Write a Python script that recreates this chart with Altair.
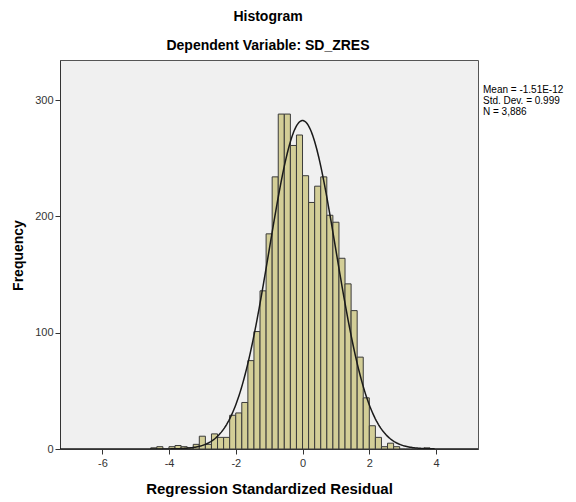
import altair as alt
import pandas as pd
import numpy as np

# ---- data ----
bin_lo = [-4.550, -4.368, -4.186, -4.004, -3.822, -3.640, -3.458, -3.276, -3.094, -2.912,
          -2.730, -2.548, -2.366, -2.184, -2.002, -1.820, -1.638, -1.456, -1.274, -1.092,
          -0.910, -0.728, -0.546, -0.364, -0.182, 0.000, 0.182, 0.364, 0.546, 0.728,
          0.910, 1.092, 1.274, 1.456, 1.638, 1.820, 2.002, 2.184, 2.366, 2.548,
          2.730, 2.912, 3.094, 3.276, 3.458, 3.640]
counts = [1, 2, 0, 2, 3, 2, 1, 4, 11, 4,
          13, 10, 10, 29, 31, 40, 76, 101, 136, 185,
          234, 288, 288, 261, 270, 235, 212, 226, 234, 201,
          195, 164, 142, 119, 79, 44, 20, 10, 2, 5,
          2, 0, 0, 0, 0, 1]
bin_width = 0.182
x_ticks = [-6, -4, -2, 0, 2, 4]
y_ticks = [0, 100, 200, 300]
title_lines = ["Histogram", "Dependent Variable: SD_ZRES"]
stats_lines = ["Mean = -1.51E-12", "Std. Dev. = 0.999", "N = 3,886"]
mean, sd, n = -1.51e-12, 0.999, 3886
x_domain = [-7.27, 5.26]
y_domain = [0, 334.5]

bars = pd.DataFrame({"lo": bin_lo, "hi": [v + bin_width for v in bin_lo], "count": counts})

# fitted normal curve (as drawn by SPSS): N * binwidth * pdf
xs = np.linspace(x_domain[0], x_domain[1], 400)
ys = n * bin_width / (sd * np.sqrt(2 * np.pi)) * np.exp(-0.5 * ((xs - mean) / sd) ** 2)
curve = pd.DataFrame({"x": xs, "y": ys})

FONT = "Liberation Sans"

xscale = alt.Scale(domain=x_domain, nice=False, zero=False)
yscale = alt.Scale(domain=y_domain, nice=False)

xaxis = alt.Axis(values=x_ticks, labelExpr="datum.value + ''", grid=False,
                 title="Regression Standardized Residual", titleFontSize=15,
                 titleFontWeight="bold", titleFont=FONT, titleColor="#000",
                 titleX=209, titleY=39, titleBaseline="middle", titleAlign="center",
                 labelFont=FONT, labelFontSize=11, labelColor="#333", labelPadding=3,
                 tickSize=5, tickColor="#333", domainColor="#333", domain=True)
yaxis = alt.Axis(values=y_ticks, grid=False, title="Frequency", titleFontSize=14,
                 titleFontWeight="bold", titleFont=FONT, titleColor="#000",
                 titleX=-42, titleY=195, titleBaseline="middle", titleAlign="center",
                 titleAngle=270,
                 labelFont=FONT, labelFontSize=11, labelColor="#333", labelPadding=2,
                 tickSize=5, tickColor="#333", domainColor="#333", domain=True)

hist = alt.Chart(bars).mark_rect(fill="#D3CE97", stroke="#3a3a3a", strokeWidth=1).encode(
    x=alt.X("lo:Q", scale=xscale, axis=xaxis),
    x2="hi:Q",
    y=alt.Y("count:Q", scale=yscale, axis=yaxis),
    y2=alt.datum(0),
)

line = alt.Chart(curve).mark_line(color="#1a1a1a", strokeWidth=1.5, clip=True).encode(
    x=alt.X("x:Q", scale=xscale),
    y=alt.Y("y:Q", scale=yscale),
)

layers = [hist, line]

title_y = [-43, -14]
for txt, py in zip(title_lines, title_y):
    layers.append(
        alt.Chart(pd.DataFrame({"t": [txt]})).mark_text(
            font=FONT, fontSize=14, fontWeight="bold", color="#000",
            baseline="middle", align="center"
        ).encode(text="t:N", x=alt.value(208), y=alt.value(py))
    )

stat_y = [30, 41, 52]
for txt, py in zip(stats_lines, stat_y):
    layers.append(
        alt.Chart(pd.DataFrame({"t": [txt]})).mark_text(
            font=FONT, fontSize=10, color="#000", baseline="middle", align="left"
        ).encode(text="t:N", x=alt.value(423), y=alt.value(py))
    )

chart = alt.layer(*layers).properties(
    width=418, height=389,
    autosize=alt.AutoSizeParams(type="none"),
    padding={"left": 60, "top": 60, "right": 98, "bottom": 53},
    background="white",
).configure_view(fill="#F0F0F0", stroke="#555", strokeWidth=1)

chart.save("out.html", embed_options={"renderer": "svg", "actions": False})
